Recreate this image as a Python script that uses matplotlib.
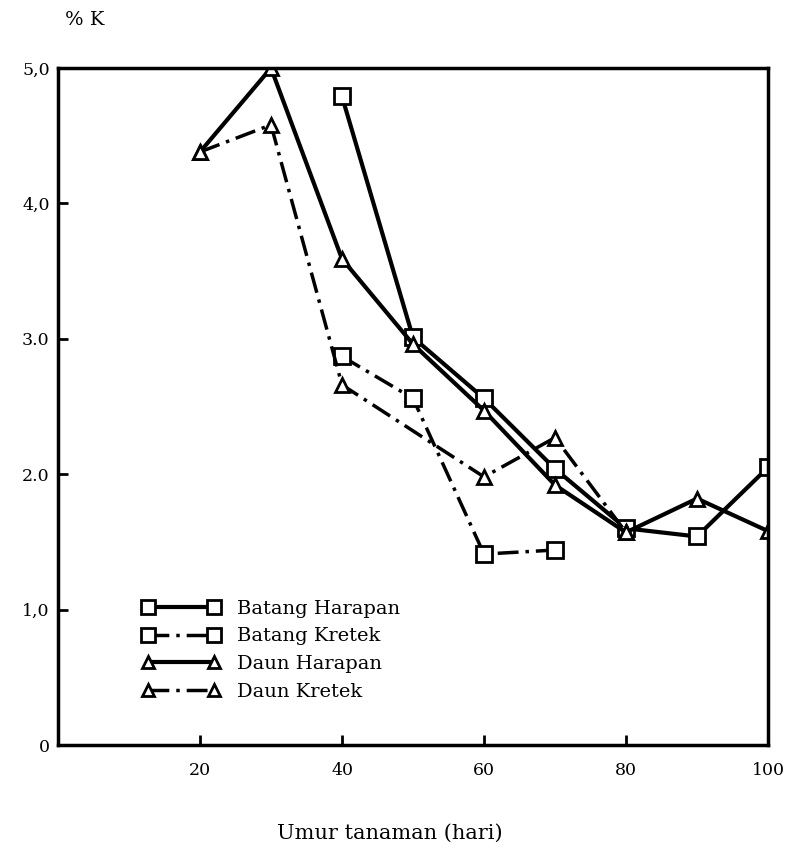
import matplotlib.pyplot as plt

# umur tanaman (hari)
x_bh = [40, 50, 60, 70, 80, 90, 100]
batang_harapan = [4.79, 3.01, 2.56, 2.04, 1.60, 1.54, 2.05]

x_bk = [40, 50, 60, 70]
batang_kretek = [2.87, 2.56, 1.41, 1.44]

x_dh = [20, 30, 40, 50, 60, 70, 80, 90, 100]
daun_harapan = [4.38, 5.0, 3.59, 2.96, 2.47, 1.92, 1.57, 1.82, 1.58]

x_dk = [20, 30, 40, 60, 70, 80]
daun_kretek = [4.38, 4.58, 2.66, 1.98, 2.27, 1.57]

xticks = [20, 40, 60, 80, 100]
yticks = [0, 1, 2, 3, 4, 5]
ylabels = ['0', '1,0', '2.0', '3.0', '4,0', '5,0']

plt.rcParams['font.family'] = ['DejaVu Serif']

fig = plt.figure(figsize=(7.86, 8.52), dpi=100)
ax = fig.add_axes([58/786, 107/852, 710/786, 677/852])

dashdot = (0, (6, 2, 1, 2))
sq = dict(marker='s', markersize=11, markerfacecolor='white',
          markeredgecolor='black', markeredgewidth=2)
tri = dict(marker='^', markersize=10, markerfacecolor='white',
           markeredgecolor='black', markeredgewidth=2)

ax.plot(x_bh, batang_harapan, color='black', lw=3, label='Batang Harapan', **sq)
ax.plot(x_bk, batang_kretek, color='black', lw=2.5, linestyle=dashdot,
        label='Batang Kretek', **sq)
ax.plot(x_dh, daun_harapan, color='black', lw=3, label='Daun Harapan', **tri)
ax.plot(x_dk, daun_kretek, color='black', lw=2.5, linestyle=dashdot,
        label='Daun Kretek', **tri)

ax.set_xlim(0, 100)
ax.set_ylim(0, 5)
ax.set_xticks(xticks)
ax.set_yticks(yticks)
ax.set_yticklabels(ylabels)
ax.tick_params(direction='in', length=7, width=2, labelsize=12.5, pad=12)
ax.tick_params(axis='y', pad=6)
for s in ax.spines.values():
    s.set_linewidth(2.5)

fig.text(65/786, 1 - 20/852, '% K', fontsize=14, va='center')
fig.text(390/786, 1 - 833/852, 'Umur tanaman (hari)', fontsize=15,
         ha='center', va='center')

ax.legend(loc='upper left', bbox_to_anchor=(132/786, 1 - 590/852),
          bbox_transform=fig.transFigure, frameon=False, numpoints=2,
          handlelength=4, fontsize=14, labelspacing=0.5, borderpad=0,
          handletextpad=0.9, markerscale=0.9)

plt.savefig('out.png', dpi=100)
